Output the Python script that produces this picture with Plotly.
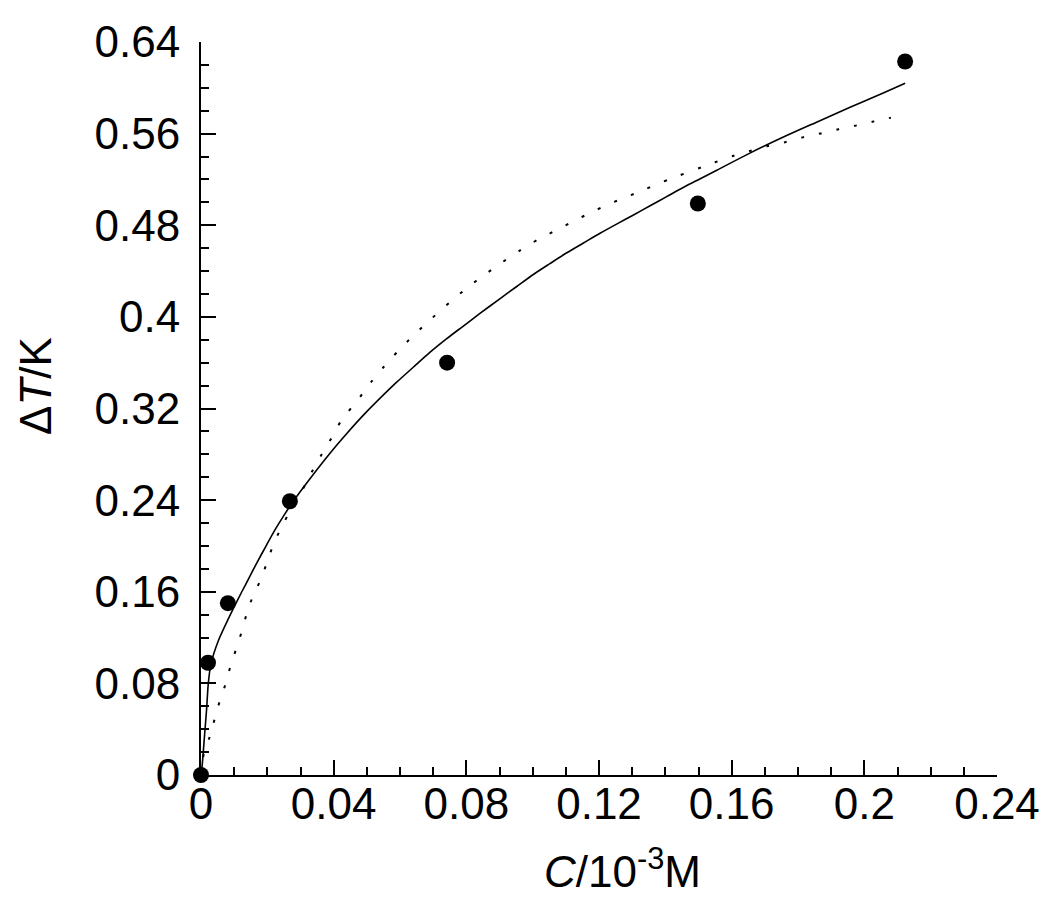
import plotly.graph_objects as go

# Measured data points
conc = [0.0, 0.0021, 0.0081, 0.0268, 0.0742, 0.1498, 0.2123]
delta_t = [0.0, 0.098, 0.150, 0.239, 0.360, 0.499, 0.623]

# Solid fitted curve
fit1_x = [0.0, 0.0004, 0.0010, 0.0017, 0.0022, 0.0030, 0.0052, 0.0077, 0.0097,
          0.0123, 0.0143, 0.0168, 0.0198, 0.0223, 0.0253, 0.0283, 0.0324,
          0.0389, 0.0439, 0.0489, 0.0540, 0.0590, 0.0640, 0.0690, 0.0741, 0.0791,
          0.0841, 0.0902, 0.0952, 0.1002, 0.1052, 0.1103, 0.1153, 0.1203, 0.1253,
          0.1304, 0.1354, 0.1404, 0.1454, 0.1495, 0.1555, 0.1655, 0.1756, 0.1856,
          0.1957, 0.2057, 0.2123]
fit1_y = [0.0, 0.010, 0.032, 0.058, 0.080, 0.097, 0.117, 0.133, 0.145,
          0.160, 0.171, 0.185, 0.201, 0.214, 0.228, 0.241, 0.257,
          0.281, 0.298, 0.314, 0.329, 0.343, 0.356, 0.369, 0.381, 0.392,
          0.403, 0.416, 0.4265, 0.437, 0.4465, 0.456, 0.4645, 0.473, 0.481,
          0.489, 0.497, 0.505, 0.513, 0.519, 0.528, 0.543, 0.557, 0.570,
          0.583, 0.5955, 0.604]

# Dotted fitted curve
fit2_x = [0.0, 0.0009, 0.0027, 0.0042, 0.0057, 0.0075, 0.0089, 0.0107, 0.0123,
          0.0137, 0.0158, 0.0183, 0.0201, 0.0221, 0.0249, 0.0304, 0.0334, 0.0364,
          0.0397, 0.0424, 0.0471, 0.0510, 0.0550, 0.0597, 0.0645, 0.0697, 0.0751,
          0.0803, 0.0856, 0.0910, 0.0962, 0.1017, 0.1070, 0.1123, 0.1177, 0.1230,
          0.1284, 0.1336, 0.1389, 0.1550, 0.1604, 0.1655, 0.1706, 0.1761, 0.1814,
          0.1869, 0.1922, 0.1974, 0.2027, 0.2080]
fit2_y = [0.0, 0.0192, 0.0340, 0.0498, 0.0650, 0.0803, 0.0952, 0.1109, 0.1255,
          0.1400, 0.1572, 0.1723, 0.1877, 0.2030, 0.2200, 0.2480, 0.2645, 0.2800,
          0.2960, 0.3100, 0.3268, 0.3420, 0.3560, 0.3711, 0.3850, 0.3990, 0.4130,
          0.4255, 0.4370, 0.4480, 0.4580, 0.4677, 0.4755, 0.4835, 0.4913, 0.4985,
          0.5049, 0.5110, 0.5175, 0.5350, 0.5405, 0.5448, 0.5490, 0.5525, 0.5567,
          0.5602, 0.5638, 0.5670, 0.5705, 0.5739]

x_ticks = [0, 0.04, 0.08, 0.12, 0.16, 0.2, 0.24]
x_labels = ["0", "0.04", "0.08", "0.12", "0.16", "0.2", "0.24"]
y_ticks = [0, 0.08, 0.16, 0.24, 0.32, 0.4, 0.48, 0.56, 0.64]
y_labels = ["0", "0.08", "0.16", "0.24", "0.32", "0.4", "0.48", "0.56", "0.64"]

FONT = "Liberation Sans, Arial, sans-serif"

fig = go.Figure()
fig.add_trace(go.Scatter(x=fit2_x, y=fit2_y, mode="lines",
                         line=dict(color="black", width=2, dash="3px,15px",
                                   shape="spline", smoothing=0.8),
                         cliponaxis=False, hoverinfo="skip"))
fig.add_trace(go.Scatter(x=fit1_x, y=fit1_y, mode="lines",
                         line=dict(color="black", width=1.6,
                                   shape="spline", smoothing=0.8),
                         cliponaxis=False, hoverinfo="skip"))
fig.add_trace(go.Scatter(x=conc, y=delta_t, mode="markers",
                         marker=dict(color="black", size=16, symbol="circle"),
                         cliponaxis=False))

axis_common = dict(showgrid=False, zeroline=False, showline=True,
                   linecolor="black", linewidth=2, ticks="inside",
                   ticklen=15, tickwidth=2, tickcolor="black",
                   tickfont=dict(family=FONT, size=44, color="black"),
                   tickmode="array", automargin=False)

fig.update_xaxes(range=[0, 0.24], tickvals=x_ticks, ticktext=x_labels,
                 minor=dict(ticks="inside", ticklen=8, tickwidth=2,
                            tickcolor="black", dtick=0.01, tick0=0),
                 ticklabelstandoff=-11, **axis_common)
fig.update_yaxes(range=[0, 0.64], tickvals=y_ticks, ticktext=y_labels,
                 minor=dict(ticks="inside", ticklen=8, tickwidth=2,
                            tickcolor="black", dtick=0.02, tick0=0),
                 ticklabelstandoff=10, **axis_common)

fig.add_annotation(text="<i>C</i>/10<sup>-3</sup>M", xref="paper", yref="paper",
                   x=0.530, y=-0.127, xanchor="center", yanchor="middle",
                   showarrow=False,
                   font=dict(family=FONT, size=44, color="black"))
fig.add_annotation(text="\u0394<i>T</i>/K", xref="paper", yref="paper",
                   x=-0.207, y=0.531, xanchor="center", yanchor="middle",
                   showarrow=False, textangle=-90,
                   font=dict(family=FONT, size=44, color="black"))

# page body has an 8px margin, so margins are reduced by 8px on left/top
fig.update_layout(width=1050, height=909, showlegend=False,
                  paper_bgcolor="white", plot_bgcolor="white",
                  margin=dict(l=193, r=61, t=34, b=142))

fig.write_html("out.html")
